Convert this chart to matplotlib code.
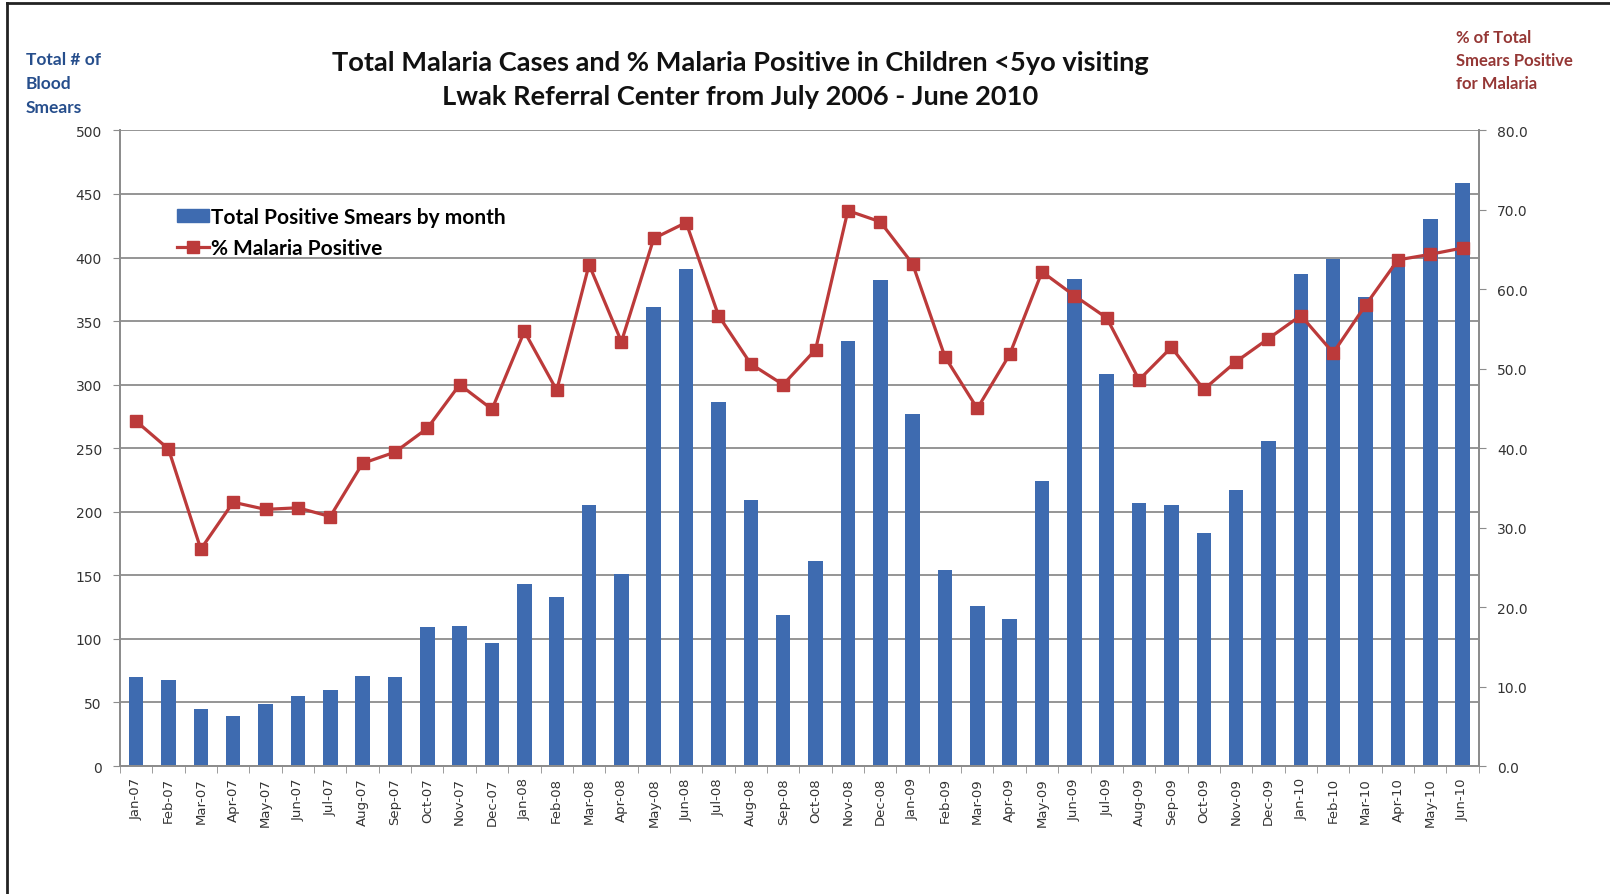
import numpy as np
import matplotlib
matplotlib.use("Agg")
from matplotlib import pyplot as plt
from matplotlib.lines import Line2D
from matplotlib.patches import Patch

# months shown on the x axis
months = ["Jan-07", "Feb-07", "Mar-07", "Apr-07", "May-07", "Jun-07", "Jul-07", "Aug-07",
          "Sep-07", "Oct-07", "Nov-07", "Dec-07", "Jan-08", "Feb-08", "Mar-08", "Apr-08",
          "May-08", "Jun-08", "Jul-08", "Aug-08", "Sep-08", "Oct-08", "Nov-08", "Dec-08",
          "Jan-09", "Feb-09", "Mar-09", "Apr-09", "May-09", "Jun-09", "Jul-09", "Aug-09",
          "Sep-09", "Oct-09", "Nov-09", "Dec-09", "Jan-10", "Feb-10", "Mar-10", "Apr-10",
          "May-10", "Jun-10"]

# total positive smears by month (left axis)
positive_smears = [70, 68, 45, 39, 49, 55, 60, 71, 70, 109, 110, 97,
                   143, 133, 205, 151, 361, 391, 286, 209, 119, 161, 334, 382,
                   277, 154, 126, 116, 224, 383, 308, 207, 205, 183, 217, 256,
                   387, 399, 369, 393, 430, 459]

# % malaria positive (right axis)
pct_positive = [43.4, 39.9, 27.3, 33.2, 32.3, 32.5, 31.4, 38.1, 39.5, 42.5, 48.0, 44.9,
                54.7, 47.3, 63.1, 53.4, 66.4, 68.4, 56.7, 50.6, 48.0, 52.4, 69.9, 68.5,
                63.2, 51.5, 45.0, 51.8, 62.2, 59.2, 56.4, 48.6, 52.7, 47.4, 50.9, 53.8,
                56.7, 52.0, 58.0, 63.7, 64.4, 65.2]

left_ticks = list(range(0, 501, 50))
right_ticks = [0.0, 10.0, 20.0, 30.0, 40.0, 50.0, 60.0, 70.0, 80.0]

bar_color = "#3E6BB0"
line_color = "#BC3A3A"
grid_color = "#8C8C8C"
tick_color = "#333333"

fig = plt.figure(figsize=(16.1, 8.95), dpi=100)
ax = fig.add_axes([0.0745, 0.143, 0.844, 0.7102])
ax2 = ax.twinx()

x = np.arange(len(months))
ax.bar(x, positive_smears, width=0.45, color=bar_color, zorder=2)
ax.set_xlim(-0.5, len(months) - 0.5)
ax.set_ylim(0, 500)
ax.set_yticks(left_ticks)
ax.grid(axis="y", color=grid_color, linewidth=1.3, zorder=0)
ax.set_axisbelow(True)

ax2.plot(x, pct_positive, color=line_color, linewidth=2.3, marker="s",
         markersize=8.5, zorder=3)
ax2.set_ylim(0, 80)
ax2.set_yticks(right_ticks)
ax2.set_yticklabels(["%.1f" % v for v in right_ticks])

# x labels at category centres, tick marks between categories
ax.set_xticks(x)
ax.set_xticklabels(months, rotation=90, fontsize=9.5, color=tick_color)
ax.set_xticks(np.arange(-0.5, len(months)), minor=True)
ax.tick_params(axis="x", which="major", length=0, pad=8)
ax.tick_params(axis="x", which="minor", length=5, color=grid_color, direction="out")
ax.tick_params(axis="y", length=5, color=grid_color, labelsize=10, labelcolor=tick_color, pad=8)
ax2.tick_params(axis="y", length=5, color=grid_color, labelsize=10, labelcolor=tick_color, pad=8)

for a in (ax, ax2):
    a.spines["top"].set_visible(False)
    for s in ("left", "right", "bottom"):
        a.spines[s].set_color(grid_color)
        a.spines[s].set_linewidth(1.3)

handles = [Patch(facecolor=bar_color, edgecolor=bar_color),
           Line2D([], [], color=line_color, linewidth=2.3, marker="s", markersize=8.5)]
ax2.legend(handles, ["Total Positive Smears by month", "% Malaria Positive"],
           loc="upper left", bbox_to_anchor=(0.034, 0.896), frameon=False,
           prop={"family": "Lato", "weight": "bold", "size": 15},
           handlelength=1.55, handleheight=0.6, handletextpad=0.12,
           labelspacing=0.55, borderpad=0)

fig.text(0.46, 0.911, "Total Malaria Cases and % Malaria Positive in Children <5yo visiting\n"
         "Lwak Referral Center from July 2006 - June 2010",
         ha="center", va="center", fontsize=19.6, fontweight="bold", family="Lato",
         linespacing=1.5, color="#111111")
fig.text(0.016, 0.906, "Total # of\nBlood\nSmears", ha="left", va="center", fontsize=12.5,
         fontweight="bold", family="Lato", color="#264E8C", linespacing=1.6)
fig.text(0.9045, 0.932, "% of Total\nSmears Positive\nfor Malaria", ha="left", va="center",
         fontsize=12, fontweight="bold", family="Lato", color="#953735", linespacing=1.55)

# frame lines along the top and left edges of the picture
fig.add_artist(Line2D([0.0045, 1.0], [0.995, 0.995], transform=fig.transFigure,
                      color="#222222", linewidth=2))
fig.add_artist(Line2D([0.0045, 0.0045], [0.0, 0.995], transform=fig.transFigure,
                      color="#222222", linewidth=2))

fig.savefig("out.png", dpi=100)
